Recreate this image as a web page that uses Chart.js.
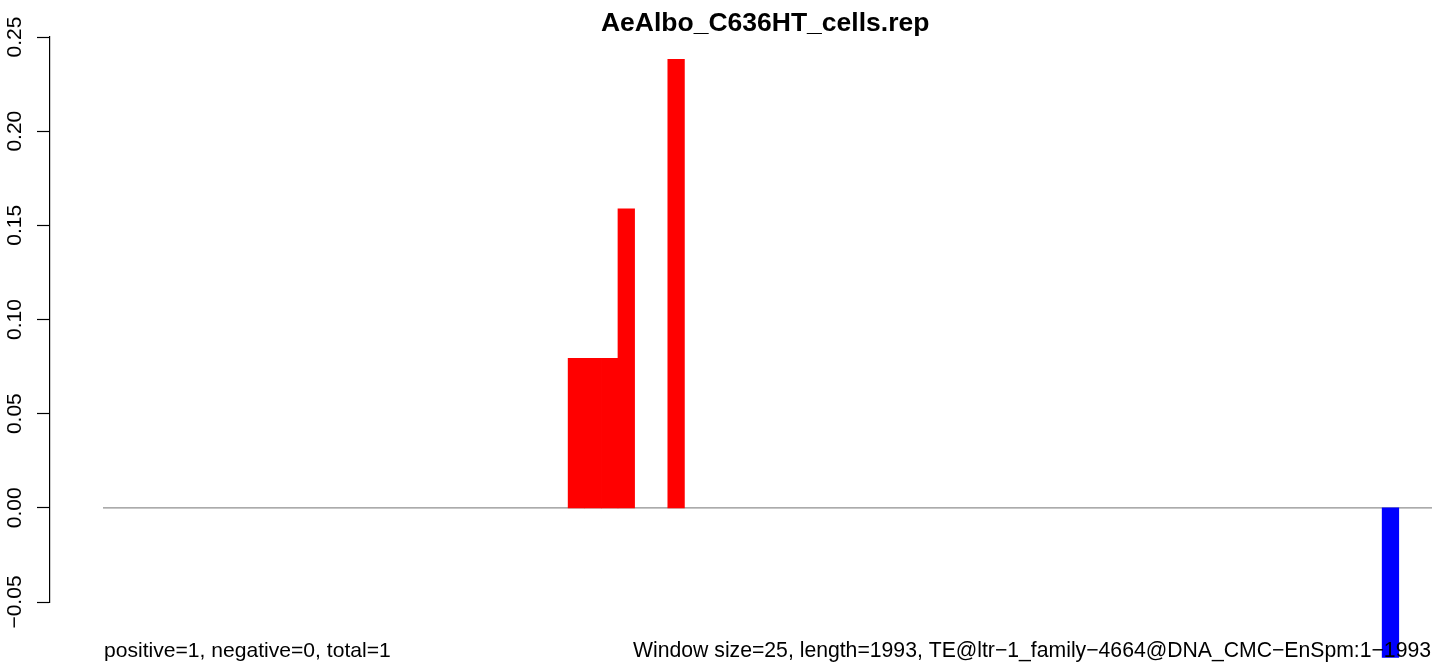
<!DOCTYPE html>
<html>
<head>
<meta charset="utf-8">
<title>AeAlbo_C636HT_cells.rep</title>
<script src="https://cdn.jsdelivr.net/npm/chart.js@4/dist/chart.umd.min.js"></script>
<style>
  html, body { margin: 0; padding: 0; background: #ffffff; }
  canvas { display: block; }
</style>
</head>
<body>
<canvas id="c" width="1441" height="664"></canvas>
<script>
// ---- data ----
const chartTitle = 'AeAlbo_C636HT_cells.rep';
const leftNote = 'positive=1, negative=0, total=1';
const rightNote = 'Window size=25, length=1993, TE@ltr\u22121_family\u22124664@DNA_CMC\u2212EnSpm:1\u22121993';
const windowSize = 25;
const seqLength = 1993;
// window start positions (bp)
const windowStarts = [
  0, 25, 50, 75, 100, 125, 150, 175, 200, 225,
  250, 275, 300, 325, 350, 375, 400, 425, 450, 475,
  500, 525, 550, 575, 600, 625, 650, 675, 700, 725,
  750, 775, 800, 825, 850, 875, 900, 925, 950, 975,
  1000, 1025, 1050, 1075, 1100, 1125, 1150, 1175, 1200, 1225,
  1250, 1275, 1300, 1325, 1350, 1375, 1400, 1425, 1450, 1475,
  1500, 1525, 1550, 1575, 1600, 1625, 1650, 1675, 1700, 1725,
  1750, 1775, 1800, 1825, 1850, 1875, 1900, 1925, 1950, 1975
];
// positive-strand values per window
const positiveValues = [
  0, 0, 0, 0, 0, 0, 0, 0, 0, 0,
  0, 0, 0, 0, 0, 0, 0, 0, 0, 0,
  0, 0, 0, 0, 0, 0, 0, 0, 0.0794, 0.0794,
  0.0794, 0.1587, 0, 0, 0.2381, 0, 0, 0, 0, 0,
  0, 0, 0, 0, 0, 0, 0, 0, 0, 0,
  0, 0, 0, 0, 0, 0, 0, 0, 0, 0,
  0, 0, 0, 0, 0, 0, 0, 0, 0, 0,
  0, 0, 0, 0, 0, 0, 0, 0, 0, 0
];
// negative-strand values per window
const negativeValues = [
  0, 0, 0, 0, 0, 0, 0, 0, 0, 0,
  0, 0, 0, 0, 0, 0, 0, 0, 0, 0,
  0, 0, 0, 0, 0, 0, 0, 0, 0, 0,
  0, 0, 0, 0, 0, 0, 0, 0, 0, 0,
  0, 0, 0, 0, 0, 0, 0, 0, 0, 0,
  0, 0, 0, 0, 0, 0, 0, 0, 0, 0,
  0, 0, 0, 0, 0, 0, 0, 0, 0, 0,
  0, 0, 0, 0, 0, 0, 0, -0.0794, 0, 0
];
const yTickLabels = ['\u22120.05', '0.00', '0.05', '0.10', '0.15', '0.20', '0.25'];
const yMin = -0.05, yMax = 0.25, yStep = 0.05;

// ---- build ----
const FONT = '"Liberation Sans", Arial, Helvetica, sans-serif';
// empty windows (value 0) carry no bar
const toPoints = vals => vals.map((v, i) => ({ x: windowStarts[i] + windowSize / 2, y: v === 0 ? null : v }));
const baselineEnd = windowStarts[windowStarts.length - 1] + windowSize;

const notesPlugin = {
  id: 'notes',
  afterLayout(chart) {
    // centre the title over the full R plot region
    const tb = chart.titleBlock;
    if (tb) {
      const xs = chart.scales.x;
      tb.left = chart.chartArea.left;
      tb.right = xs.getPixelForValue(seqLength * 1.04);
    }
  },
  afterDraw(chart) {
    const ctx = chart.ctx;
    const xs = chart.scales.x;
    ctx.save();
    ctx.fillStyle = '#000';
    ctx.textBaseline = 'alphabetic';
    ctx.font = '21.1px ' + FONT;
    ctx.textAlign = 'left';
    ctx.fillText(leftNote, xs.getPixelForValue(0) + 1, 657);
    ctx.font = '21.2px ' + FONT;
    ctx.textAlign = 'right';
    ctx.fillText(rightNote, chart.chartArea.right - 1, 657);
    ctx.restore();
  }
};

new Chart(document.getElementById('c'), {
  type: 'bar',
  data: {
    datasets: [
      {
        type: 'line',
        label: 'baseline',
        data: [{ x: 0, y: 0 }, { x: baselineEnd, y: 0 }],
        borderColor: '#8f8f8f',
        borderWidth: 1.4,
        pointRadius: 0,
        order: 3
      },
      {
        label: 'positive',
        data: toPoints(positiveValues),
        backgroundColor: '#ff0000',
        borderWidth: 0,
        barPercentage: 1,
        categoryPercentage: 1,
        grouped: false,
        clip: false,
        order: 1
      },
      {
        label: 'negative',
        data: toPoints(negativeValues),
        backgroundColor: '#0000ff',
        borderWidth: 0,
        barPercentage: 1,
        categoryPercentage: 1,
        grouped: false,
        clip: false,
        order: 1
      }
    ]
  },
  options: {
    responsive: false,
    animation: false,
    devicePixelRatio: 1,
    layout: { padding: { top: 0, left: 0, right: 9, bottom: 62 } },
    plugins: {
      legend: { display: false },
      tooltip: { enabled: false },
      title: {
        display: true,
        text: chartTitle,
        color: '#000',
        font: { family: FONT, size: 26.5, weight: 'bold', lineHeight: 1 },
        padding: { top: 10.5, bottom: 0 }
      }
    },
    scales: {
      x: {
        type: 'linear',
        display: false,
        offset: false,
        min: -seqLength * 0.04,
        max: baselineEnd
      },
      y: {
        type: 'linear',
        min: yMin,
        max: yMax,
        afterFit(scale) { scale.width = 50; },
        border: { display: true, color: '#000', width: 1.2 },
        grid: {
          display: true,
          drawOnChartArea: false,
          drawTicks: true,
          tickLength: 13,
          tickColor: '#000',
          tickWidth: 1.2
        },
        ticks: {
          stepSize: yStep,
          autoSkip: false,
          minRotation: 90,
          maxRotation: 90,
          crossAlign: 'center',
          padding: -5,
          color: '#000',
          font: { family: FONT, size: 21 },
          callback: (v, i) => yTickLabels[i]
        }
      }
    }
  },
  plugins: [notesPlugin]
});
</script>
</body>
</html>
